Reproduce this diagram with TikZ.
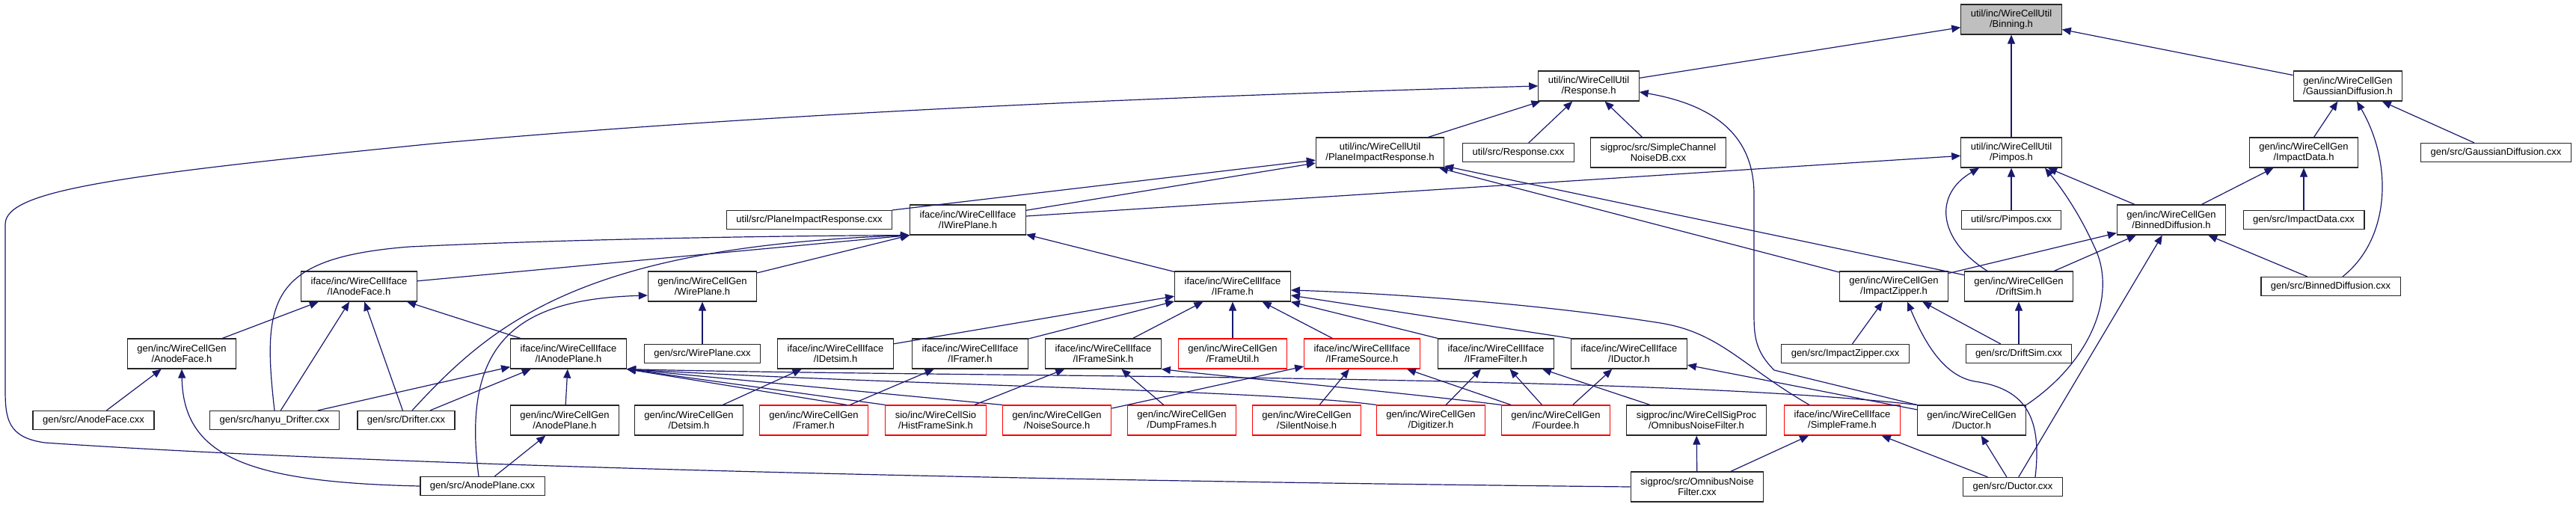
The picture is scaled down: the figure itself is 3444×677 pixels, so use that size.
\documentclass[tikz,border=0pt]{standalone}
\usepackage{fontspec}
\setmainfont{Liberation Sans}
\usepackage{tikz}
\usetikzlibrary{arrows.meta,calc}
\definecolor{edgec}{HTML}{191970}
\definecolor{trunc}{HTML}{FF0000}
\definecolor{focusbg}{HTML}{BFBFBF}
\definecolor{rimc}{HTML}{262626}
\tikzset{
  hdr/.style={draw=rimc,line width=0.6pt,fill=white,inner xsep=6.5pt,inner ysep=1.5pt,
    align=center,font=\fontsize{6.5}{7.2}\selectfont,minimum height=20pt},
  src/.style={hdr,minimum height=12.5pt},       % one-line file box
  hdrr/.style={hdr,draw=trunc},                 % truncated node, red rim
  focus/.style={hdr,fill=focusbg},              % the file the graph is about
  dep/.style={-{Triangle[length=6pt,width=5pt]},line width=0.6pt,draw=edgec},
}

\begin{document}
\begin{tikzpicture}[x=0.5pt,y=-0.5pt]
  \useasboundingbox (0,0) rectangle (3444,677);
  % ---- top rows: util and gen headers ----
  \node[focus] (binning) at (2689,26) {util/inc/WireCellUtil\\/Binning.h};
  \node[hdr] (resp)   at (2124,115) {util/inc/WireCellUtil\\/Response.h};
  \node[hdr] (gaussh) at (3139,115) {gen/inc/WireCellGen\\/GaussianDiffusion.h};
  \node[hdr] (pirh)     at (1845,204) {util/inc/WireCellUtil\\/PlaneImpactResponse.h};
  \node[src] (respcxx)  at (2030,204) {util/src/Response.cxx};
  \node[hdr] (chandb)   at (2217,204) {sigproc/src/SimpleChannel\\NoiseDB.cxx};
  \node[hdr] (pimposh)  at (2689,204) {util/inc/WireCellUtil\\/Pimpos.h};
  \node[hdr] (impdatah) at (3080,204) {gen/inc/WireCellGen\\/ImpactData.h};
  \node[src] (gausscxx) at (3337,204) {gen/src/GaussianDiffusion.cxx};
  \node[src] (pircxx)     at (1082,294) {util/src/PlaneImpactResponse.cxx};
  \node[hdr] (iwire)      at (1294,294) {iface/inc/WireCellIface\\/IWirePlane.h};
  \node[src] (pimposcxx)  at (2689,294) {util/src/Pimpos.cxx};
  \node[hdr] (binnedh)    at (2903,294) {gen/inc/WireCellGen\\/BinnedDiffusion.h};
  \node[src] (impdatacxx) at (3080,294) {gen/src/ImpactData.cxx};
  % ---- middle rows: interfaces ----
  \node[hdr] (ianodef)   at (480,383)  {iface/inc/WireCellIface\\/IAnodeFace.h};
  \node[hdr] (wireh)     at (939,383)  {gen/inc/WireCellGen\\/WirePlane.h};
  \node[hdr] (iframe)    at (1648,383) {iface/inc/WireCellIface\\/IFrame.h};
  \node[hdr] (zipperh)   at (2532,383) {gen/inc/WireCellGen\\/ImpactZipper.h};
  \node[hdr] (driftsimh) at (2699,383) {gen/inc/WireCellGen\\/DriftSim.h};
  \node[src] (binnedcxx) at (3116,383) {gen/src/BinnedDiffusion.cxx};
  \node[hdr]  (anodefh)     at (243,473)  {gen/inc/WireCellGen\\/AnodeFace.h};
  \node[hdr]  (ianodep)     at (760,473)  {iface/inc/WireCellIface\\/IAnodePlane.h};
  \node[src]  (wirecxx)     at (939,473)  {gen/src/WirePlane.cxx};
  \node[hdr]  (idetsim)     at (1117,473) {iface/inc/WireCellIface\\/IDetsim.h};
  \node[hdr]  (iframer)     at (1297,473) {iface/inc/WireCellIface\\/IFramer.h};
  \node[hdr]  (isink)       at (1475,473) {iface/inc/WireCellIface\\/IFrameSink.h};
  \node[hdrr] (frameutil)   at (1648,473) {gen/inc/WireCellGen\\/FrameUtil.h};
  \node[hdrr] (isource)     at (1821,473) {iface/inc/WireCellIface\\/IFrameSource.h};
  \node[hdr]  (ifilter)     at (2000,473) {iface/inc/WireCellIface\\/IFrameFilter.h};
  \node[hdr]  (iductor)     at (2178,473) {iface/inc/WireCellIface\\/IDuctor.h};
  \node[src]  (zippercxx)   at (2467,473) {gen/src/ImpactZipper.cxx};
  \node[src]  (driftsimcxx) at (2699,473) {gen/src/DriftSim.cxx};
  % ---- bottom rows: implementations ----
  \node[src]  (anodefcxx)  at (125,562)  {gen/src/AnodeFace.cxx};
  \node[src]  (hanyu)      at (367,562)  {gen/src/hanyu\_Drifter.cxx};
  \node[src]  (driftercxx) at (543,562)  {gen/src/Drifter.cxx};
  \node[hdr]  (anodeph)    at (755,562)  {gen/inc/WireCellGen\\/AnodePlane.h};
  \node[hdr]  (detsimh)    at (921,562)  {gen/inc/WireCellGen\\/Detsim.h};
  \node[hdrr] (framerh)    at (1088,562) {gen/inc/WireCellGen\\/Framer.h};
  \node[hdrr] (histsink)   at (1251,562) {sio/inc/WireCellSio\\/HistFrameSink.h};
  \node[hdrr] (noisesrc)   at (1413,562) {gen/inc/WireCellGen\\/NoiseSource.h};
  \node[hdrr] (dumpfr)     at (1580,562) {gen/inc/WireCellGen\\/DumpFrames.h};
  \node[hdrr] (silent)     at (1747,562) {gen/inc/WireCellGen\\/SilentNoise.h};
  \node[hdrr] (digit)      at (1913,562) {gen/inc/WireCellGen\\/Digitizer.h};
  \node[hdrr] (fourdee)    at (2080,562) {gen/inc/WireCellGen\\/Fourdee.h};
  \node[hdr]  (omnih)      at (2268,562) {sigproc/inc/WireCellSigProc\\/OmnibusNoiseFilter.h};
  \node[hdrr] (simplefr)   at (2463,562) {iface/inc/WireCellIface\\/SimpleFrame.h};
  \node[hdr]  (ductorh)    at (2636,562) {gen/inc/WireCellGen\\/Ductor.h};
  \node[src]  (anodepcxx)  at (645,650)  {gen/src/AnodePlane.cxx};
  \node[hdr]  (omnicxx)    at (2269,651) {sigproc/src/OmnibusNoise\\Filter.cxx};
  \node[src]  (ductorcxx)  at (2691,651) {gen/src/Ductor.cxx};

  % ---- straight includes, grouped by the included file ----
  \foreach \s in {resp,pimposh,gaussh} \draw[dep] (\s) -- (binning);
  \foreach \s in {pirh,respcxx,chandb} \draw[dep] (\s) -- (resp);
  \foreach \s in {pircxx,iwire,zipperh,driftsimh} \draw[dep] (\s) -- (pirh);
  \foreach \s in {iwire,pimposcxx,binnedh} \draw[dep] (\s) -- (pimposh);
  \foreach \s in {binnedh,impdatacxx} \draw[dep] (\s) -- (impdatah);
  \foreach \s in {impdatah,gausscxx} \draw[dep] (\s) -- (gaussh);
  \foreach \s in {zipperh,driftsimh,binnedcxx,ductorcxx} \draw[dep] (\s) -- (binnedh);
  \foreach \s in {zippercxx,driftsimcxx} \draw[dep] (\s) -- (zipperh);
  \draw[dep] (driftsimcxx) -- (driftsimh);
  \foreach \s in {ianodef,wireh} \draw[dep] (\s) -- (iwire.south west);
  \draw[dep] (iframe) -- (iwire);
  \foreach \s in {anodefh,hanyu,driftercxx,ianodep} \draw[dep] (\s) -- (ianodef);
  \draw[dep] (wirecxx) -- (wireh);
  \draw[dep] (anodefcxx) -- (anodefh);
  \foreach \s in {hanyu,driftercxx,anodeph} \draw[dep] (\s) -- (ianodep);
  \draw[dep] (anodepcxx) -- (anodeph);
  \draw[dep] (detsimh) -- (idetsim);
  \foreach \s in {idetsim,iframer,isink,frameutil,isource} \draw[dep] (\s) -- (iframe);
  \draw[dep] (ifilter.north west) -- (iframe.south east);
  \draw[dep] (iductor.north west) -- ($(iframe.east)+(0,12)$);
  \draw[dep] (framerh) -- (iframer);
  \foreach \s in {histsink,dumpfr} \draw[dep] (\s) -- (isink);
  \draw[dep] (fourdee.north west) .. controls (1850,522) and (1650,505) .. (isink.south east);
  \foreach \s in {noisesrc,silent,fourdee} \draw[dep] (\s) -- (isource);
  \foreach \s in {digit,fourdee,omnih} \draw[dep] (\s) -- (ifilter);
  \foreach \s in {fourdee,ductorh} \draw[dep] (\s) -- (iductor);
  \foreach \s in {omnicxx,ductorcxx} \draw[dep] (\s) -- (simplefr);
  \draw[dep] (omnicxx) -- (omnih);
  \draw[dep] (ductorcxx) -- (ductorh);
  % ---- into IAnodePlane.h from the right ----
  \draw[dep] ($(framerh.north)+(44,0)$) -- (ianodep.south east);
  \draw[dep] (histsink.north west) -- (ianodep.south east);
  \draw[dep] (noisesrc.north west) -- (ianodep.south east);
  \draw[dep] (digit.north west) .. controls (1700,522) and (1200,515) .. (ianodep.south east);
  \draw[dep] (ductorh.north west) .. controls (2200,500) and (1300,505) .. (ianodep.south east);

  % ---- curved includes ----
  \draw[dep] (omnicxx.west) .. controls (1300,642) and (500,622) .. (60,592)
    .. controls (10,585) and (7,560) .. (7,520) -- (7,300)
    .. controls (7,255) and (150,235) .. (580,192)
    .. controls (1100,145) and (1700,125) .. (resp.west);
  \draw[dep] (ductorh.north west) -- (2372,495) .. controls (2347,470) and (2345,450) .. (2345,420)
    -- (2345,260) .. controls (2345,180) and (2290,140) .. ($(resp.east)+(0,8)$);
  \draw[dep] ($(driftsimh.north)+(-42,0)$) .. controls (2590,320) and (2585,260)
    .. ($(pimposh.south)+(-43,0)$);
  \draw[dep] (ductorh.north east) .. controls (2800,480) and (2830,390) .. (2800,330)
    .. controls (2780,285) and (2755,250) .. ($(pimposh.south)+(45,0)$);
  \draw[dep] ($(ductorcxx.north)+(30,0)$) .. controls (2730,560) and (2710,520) .. (2640,510)
    .. controls (2595,502) and (2570,450) .. ($(zipperh.south)+(18,0)$);
  \draw[dep] (hanyu.north) .. controls (350,400) and (360,345) .. (547,330)
    .. controls (800,318) and (1100,315) .. (iwire.south west);
  \draw[dep] ($(driftercxx.north)+(8,0)$) .. controls (660,430) and (780,330) .. (iwire.south west);
  \draw[dep] ($(anodepcxx.north)+(-5,0)$) .. controls (615,450) and (700,400) .. ($(wireh.west)+(0,12)$);
  \draw[dep] (anodepcxx.west) .. controls (330,645) and (245,610) .. (anodefh.south);
  \draw[dep] ($(simplefr.north)+(-44,0)$) .. controls (2330,490) and (2300,445) .. (2220,432)
    .. controls (2050,405) and (1850,392) .. ($(iframe.east)+(0,5)$);
  \draw[dep] ($(binnedcxx.north)+(16,0)$) .. controls (3195,320) and (3200,220) .. ($(gaussh.south)+(12,0)$);
\end{tikzpicture}
\end{document}
